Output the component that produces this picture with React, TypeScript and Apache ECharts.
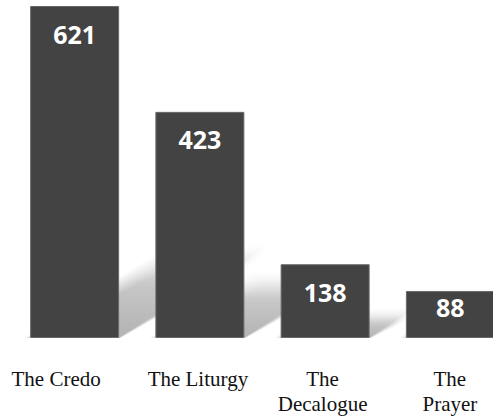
import React, { useEffect, useRef } from "react";
import * as echarts from "echarts";

const categories: string[] = ["The Credo", "The Liturgy", "The\nDecalogue", "The\nPrayer"];
const values: number[] = [621, 423, 138, 88];
const yMax = 621;

const BAR_COLOR = "#434343";
const BAR_WIDTH = 89;
const labelPads: number[][] = [
  [0, 37, 0, 0],
  [0, 4, 0, 0],
  [0, 5, 0, 0],
  [0, 1, 0, 0],
];
const valueLabelDistance: number[] = [15, 15, 15, 4];
const SOFT_STEPS = 7;

export default function App() {
  const ref = useRef<HTMLDivElement>(null);
  useEffect(() => {
    if (!ref.current) return;
    const chart = echarts.init(ref.current, null, { renderer: "svg" });
    const rich: Record<string, any> = {};
    labelPads.forEach((p, i) => {
      rich["c" + i] = {
        fontFamily: "Liberation Serif",
        fontSize: 21,
        lineHeight: 25,
        color: "#111",
        padding: p,
      };
    });
    chart.setOption({
      animation: false,
      backgroundColor: "#ffffff",
      grid: {
        left: 12,
        width: 501,
        top: 6,
        height: 332,
        containLabel: false,
        outerBoundsMode: "none",
      },
      xAxis: {
        type: "category",
        data: categories,
        axisLine: { show: false },
        axisTick: { show: false },
        axisLabel: {
          margin: 28,
          interval: 0,
          formatter: (v: string, i: number) =>
            v
              .split("\n")
              .map((l) => `{c${i}|${l}}`)
              .join("\n"),
          rich,
        },
      },
      yAxis: {
        type: "value",
        min: 0,
        max: yMax,
        show: false,
        splitLine: { show: false },
      },
      series: [
        {
          type: "custom",
          z: 1,
          silent: true,
          clip: false,
          data: values.map((v, i) => [i, v]),
          renderItem: (params: any, api: any) => {
            const base = api.coord([api.value(0), 0]);
            const top = api.coord([api.value(0), api.value(1)]);
            const h = base[1] - top[1];
            const L = base[0] - BAR_WIDTH / 2;
            const R = base[0] + BAR_WIDTH / 2;
            const B = base[1];
            const sy = h * 0.25 + 8;
            const sx = sy / 0.6;
            const children: any[] = [];
            // layered polygons of growing size and low alpha imitate a blurred shadow
            for (let k = 0; k < SOFT_STEPS; k++) {
              const e = (k - SOFT_STEPS / 2) * 2.2;
              const a = 0.05;
              children.push({
                type: "polygon",
                shape: {
                  points: [
                    [L - e, B],
                    [R - e * 0.2, B],
                    [R + sx + e * 0.6, B - sy - e],
                    [L + sx - e, B - sy - e],
                  ],
                },
                style: {
                  fill: new echarts.graphic.LinearGradient(0, 1, 0, 0, [
                    { offset: 0, color: `rgba(0,0,0,${a})` },
                    { offset: 0.6, color: `rgba(0,0,0,${a * 0.7})` },
                    { offset: 1, color: "rgba(0,0,0,0)" },
                  ]),
                },
              });
            }
            return { type: "group", children };
          },
        },
        {
          type: "bar",
          z: 3,
          barWidth: BAR_WIDTH,
          data: values.map((v, i) => ({
            value: v,
            label: { distance: valueLabelDistance[i] },
          })),
          itemStyle: {
            color: BAR_COLOR,
            borderColor: "#6a6a6a",
            borderWidth: 1,
          },
          label: {
            show: true,
            position: "insideTop",
            color: "#ffffff",
            fontFamily: "Open Sans",
            fontWeight: "bold",
            fontSize: 25,
          },
        },
      ],
    });
    return () => chart.dispose();
  }, []);
  return (
    <div
      ref={ref}
      style={{ position: "absolute", left: 0, top: 0, width: 493, height: 419 }}
    />
  );
}
